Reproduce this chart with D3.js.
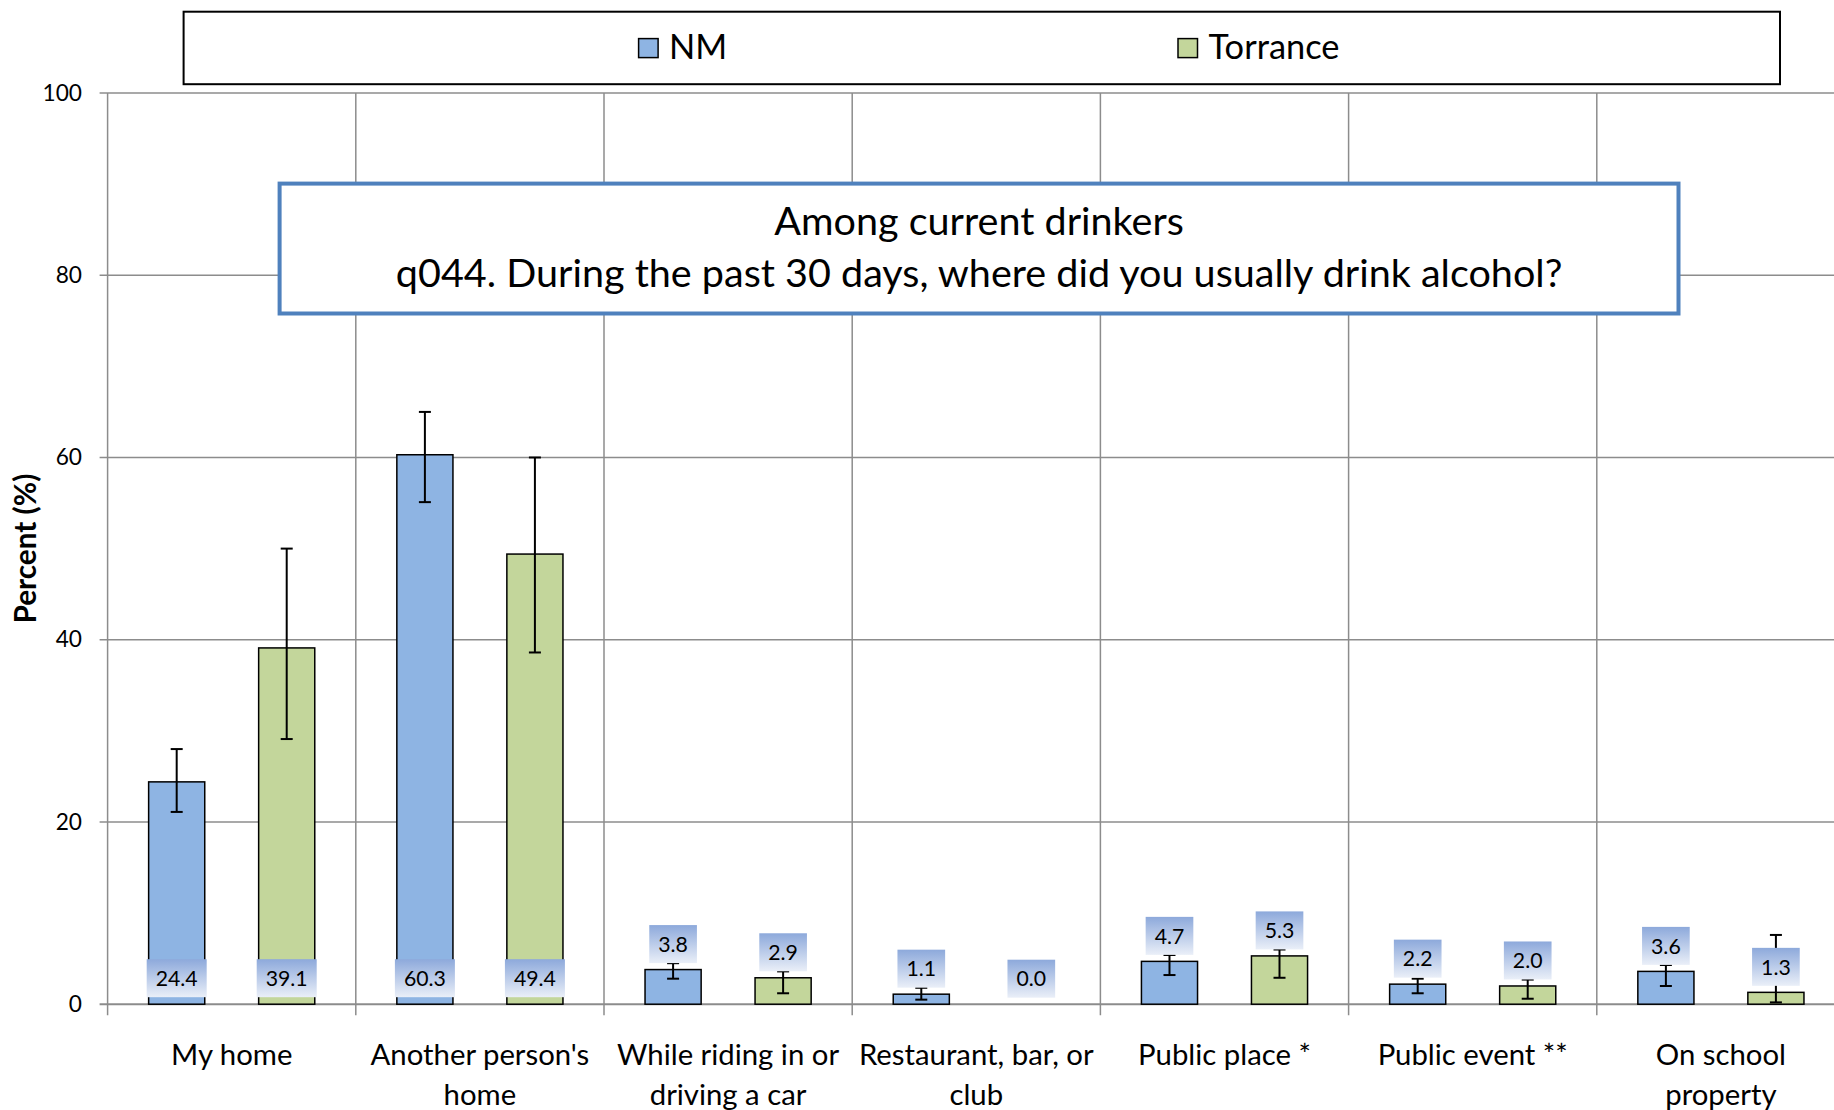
<!DOCTYPE html>
<html><head><meta charset="utf-8">
<script src="https://cdn.jsdelivr.net/npm/d3@7"></script>
<style>body{margin:0;background:#fff;} svg{display:block;font-family:Lato,"Open Sans",sans-serif;}</style>
</head><body><svg id="chart" width="1834" height="1110"></svg>
<script>
// ---- data ----
const categories = ["My home","Another person's\nhome","While riding in or\ndriving a car","Restaurant, bar, or\nclub","Public place *","Public event **","On school\nproperty"];
const series = ["NM","Torrance"];
const nmValues = [24.4, 60.3, 3.8, 1.1, 4.7, 2.2, 3.6];
const torranceValues = [39.1, 49.4, 2.9, 0.0, 5.3, 2.0, 1.3];
const nmLow  = [21.1, 55.1, 2.8, 0.5, 3.2, 1.2, 2.0];
const nmHigh = [28.0, 65.0, 4.5, 1.8, 5.4, 2.8, 4.3];
const torranceLow  = [29.1, 38.6, 1.2, 0.0, 2.9, 0.6, 0.2];
const torranceHigh = [50.0, 60.0, 3.6, 0.0, 6.0, 2.7, 7.6];
const yTicks = [0, 20, 40, 60, 80, 100];
const titleLines = ["Among current drinkers","q044. During the past 30 days, where did you usually drink alcohol?"];
const yTitle = "Percent (%)";
const seriesColors = ["#8EB4E3", "#C3D69B"];

const rows = [];
categories.forEach((c,i)=>{
  rows.push({cat:c, s:"NM", v:nmValues[i], lo:nmLow[i], hi:nmHigh[i], color:seriesColors[0]});
  rows.push({cat:c, s:"Torrance", v:torranceValues[i], lo:torranceLow[i], hi:torranceHigh[i], color:seriesColors[1]});
});

const svg = d3.select("#chart");
const defs = svg.append("defs");
const grad = defs.append("linearGradient").attr("id","lblGrad").attr("x1",0).attr("y1",0).attr("x2",0).attr("y2",1);
grad.append("stop").attr("offset","0%").attr("stop-color","#8DA9DB");
grad.append("stop").attr("offset","100%").attr("stop-color","#EAEFF8");

function fitSize(str, target, weight){
  const t = svg.append("text").attr("font-size",100).attr("font-weight",weight||"normal").text(str);
  const w = t.node().getComputedTextLength(); t.remove();
  return 100*target/w;
}
const fsTitle = fitSize(titleLines[1], 1167);
const fsCat = fitSize("While riding in or", 222);
const fsLegend = fitSize("Torrance", 131);
const fsTick = fitSize("100", 39.5);
const fsLabel = fitSize("24.4", 42);
const fsYTitle = fitSize(yTitle, 150, "bold");

// ---- scales ----
const left = 107.6, band = 248.2;
const x0 = d3.scaleBand().domain(categories).range([left, left + band*categories.length]).padding(0);
const x1 = d3.scaleBand().domain(series).range([0, x0.bandwidth()]).paddingInner(0.49).paddingOuter(0.373);
const y = d3.scaleLinear().domain([0,100]).range([1004.2, 93]);
const right = left + band*categories.length;
const gridColor = "#8C8C8C";

// horizontal gridlines
svg.append("g").selectAll("line").data(yTicks).join("line")
  .attr("x1", left-8).attr("x2", right).attr("y1", d=>y(d)).attr("y2", d=>y(d))
  .attr("stroke", gridColor).attr("stroke-width", d=> d===0 ? 2 : 1.5);
// vertical separators
const seps = d3.range(categories.length+1).map(i=> i<categories.length ? x0(categories[i]) : right);
svg.append("g").selectAll("line").data(seps).join("line")
  .attr("x1", d=>d).attr("x2", d=>d).attr("y1", y(100)).attr("y2", y(0)+11)
  .attr("stroke", gridColor).attr("stroke-width", 1.5);

// y axis labels
const yAxis = d3.axisLeft(y).tickValues(yTicks).tickSize(0).tickPadding(25.6);
const ya = svg.append("g").attr("transform",`translate(${left},0)`).call(yAxis);
ya.select(".domain").remove();
ya.selectAll("text").attr("font-size", fsTick).attr("fill","#000").attr("font-family","Lato");

// y title
svg.append("text").attr("transform",`translate(36,548.6) rotate(-90)`).attr("text-anchor","middle")
  .attr("font-weight","bold").attr("font-size",fsYTitle).text(yTitle);

// bars
svg.append("g").selectAll("rect").data(rows).join("rect")
  .attr("x", d=>x0(d.cat)+x1(d.s)).attr("width", x1.bandwidth())
  .attr("y", d=>y(d.v)).attr("height", d=>y(0)-y(d.v))
  .attr("fill", d=>d.color).attr("stroke","#000").attr("stroke-width",1.5);

// error bars
const eb = svg.append("g").attr("stroke","#000").attr("stroke-width",2);
rows.filter(d=>d.hi>d.lo).forEach(d=>{
  const cx = x0(d.cat)+x1(d.s)+x1.bandwidth()/2;
  eb.append("line").attr("x1",cx).attr("x2",cx).attr("y1",y(d.hi)).attr("y2",y(d.lo));
  eb.append("line").attr("x1",cx-6).attr("x2",cx+6).attr("y1",y(d.hi)).attr("y2",y(d.hi));
  eb.append("line").attr("x1",cx-6).attr("x2",cx+6).attr("y1",y(d.lo)).attr("y2",y(d.lo));
});

// data labels
const lg = svg.append("g");
rows.forEach(d=>{
  const cx = x0(d.cat)+x1(d.s)+x1.bandwidth()/2;
  const txt = d.v.toFixed(1);
  const g = lg.append("g");
  const t = g.append("text").attr("font-size",fsLabel).attr("text-anchor","middle").text(txt);
  const w = t.node().getComputedTextLength() + 18, h = 38;
  const bottom = d.v >= 10 ? y(0)-7 : y(d.v)-6.5;
  g.insert("rect","text").attr("x",cx-w/2).attr("y",bottom-h).attr("width",w).attr("height",h).attr("fill","url(#lblGrad)");
  t.attr("x",cx).attr("y",bottom-h/2).attr("dy","0.36em");
});

// category labels
categories.forEach(c=>{
  const cx = x0(c)+band/2;
  c.split("\n").forEach((ln,i)=>{
    svg.append("text").attr("x",cx).attr("y",1065+i*40).attr("text-anchor","middle").attr("font-size",fsCat).text(ln);
  });
});

// title box
svg.append("rect").attr("x",279.6).attr("y",183.6).attr("width",1398.9).attr("height",129.9)
  .attr("fill","#fff").attr("stroke","#4F81BD").attr("stroke-width",4);
titleLines.forEach((ln,i)=>{
  svg.append("text").attr("x",979.1).attr("y",235+i*52).attr("text-anchor","middle").attr("font-size",fsTitle).text(ln);
});

// legend
svg.append("rect").attr("x",183.6).attr("y",11.7).attr("width",1596.4).attr("height",72.5)
  .attr("fill","#fff").attr("stroke","#000").attr("stroke-width",2);
const legX = [638.6, 1178];
series.forEach((s,i)=>{
  svg.append("rect").attr("x",legX[i]).attr("y",38.6).attr("width",19.5).attr("height",19)
    .attr("fill",seriesColors[i]).attr("stroke","#000").attr("stroke-width",1.5);
  svg.append("text").attr("x",legX[i]+30.5).attr("y",59).attr("font-size",fsLegend).text(s);
});
</script></body></html>
